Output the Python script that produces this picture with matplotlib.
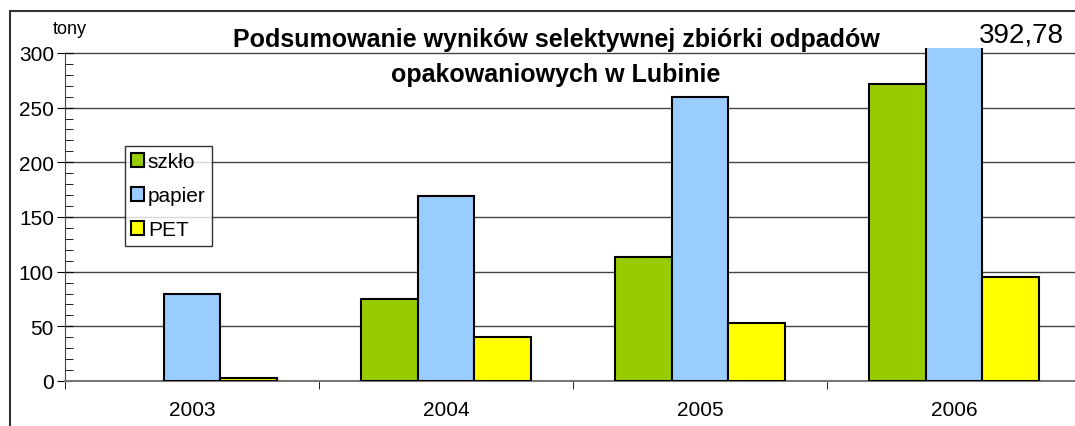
import numpy as np
import matplotlib
matplotlib.use("Agg")
import matplotlib.pyplot as plt
from matplotlib.patches import Patch, Rectangle

plt.rcParams['font.family'] = ['Liberation Sans', 'DejaVu Sans']

# dane (tony)
years = ['2003', '2004', '2005', '2006']
szklo = [np.nan, 75, 113, 272]
papier = [80, 169, 260, 392.78]
pet = [3, 40, 53, 95]
series_names = ['szkło', 'papier', 'PET']
colors = ['#99CC00', '#99CCFF', '#FFFF00']
y_ticks = [0, 50, 100, 150, 200, 250, 300]

W, H = 1075, 427
fig = plt.figure(figsize=(W / 100, H / 100), dpi=100)

# ramka wykresu (obcięta z prawej i z dołu)
fig.patches.append(Rectangle((10 / W, -0.1), 1.2, 1 - 12 / H + 0.1,
                             transform=fig.transFigure, fill=False,
                             edgecolor='#333333', linewidth=1.5))

ax = fig.add_axes([65 / W, 1 - 382 / H, 1016 / W, (382 - 49) / H])
x = np.arange(len(years))
w = 0.2244
for i, (vals, c) in enumerate(zip([szklo, papier, pet], colors)):
    ax.bar(x + (i - 1) * w, vals, width=w, color=c, edgecolor='black',
           linewidth=1.5, zorder=3)

ax.set_xlim(-0.5, 3.5)
ax.set_ylim(0, 304.5)
ax.set_yticks(y_ticks)
ax.set_yticks(np.arange(0, 301, 10), minor=True)
ax.yaxis.grid(True, color='#444444', linewidth=1)
ax.set_axisbelow(True)
for s in ['top', 'right']:
    ax.spines[s].set_visible(False)
ax.spines['left'].set_bounds(0, 300)
ax.spines['left'].set_color('#444444')
ax.spines['bottom'].set_color('#777777')
ax.spines['bottom'].set_linewidth(1.5)
ax.tick_params(axis='y', which='major', direction='inout', length=12,
               labelsize=15, pad=2)
ax.tick_params(axis='y', which='minor', direction='in', length=6)
ax.set_xticks(x)
ax.set_xticklabels(years, fontsize=15)
ax.set_xticks(np.arange(-0.5, 3.6, 1), minor=True)
ax.tick_params(axis='x', which='major', length=0, pad=14)
ax.tick_params(axis='x', which='minor', direction='out', length=6)

fig.text(556 / W, 1 - 40 / H, 'Podsumowanie wyników selektywnej zbiórki odpadów',
         ha='center', va='center', fontsize=18, fontweight='bold')
fig.text(556 / W, 1 - 75 / H, 'opakowaniowych w Lubinie',
         ha='center', va='center', fontsize=18, fontweight='bold')
fig.text(70 / W, 1 - 30 / H, 'tony', ha='center', va='center', fontsize=13)
fig.text(1064 / W, 1 - 36 / H, '392,78', ha='right', va='center', fontsize=20)

handles = [Patch(facecolor=c, edgecolor='black', linewidth=1.5, label=n)
           for c, n in zip(colors, series_names)]
leg = fig.legend(handles=handles, loc='upper left',
                 bbox_to_anchor=(125 / W, 1 - 147 / H), fontsize=15,
                 frameon=True, fancybox=False, edgecolor='black',
                 handlelength=0.6, handleheight=0.6, handletextpad=0.2,
                 borderpad=0.3, labelspacing=0.72, borderaxespad=0)
leg.get_frame().set_linewidth(1)

fig.savefig('out.png', dpi=100)
